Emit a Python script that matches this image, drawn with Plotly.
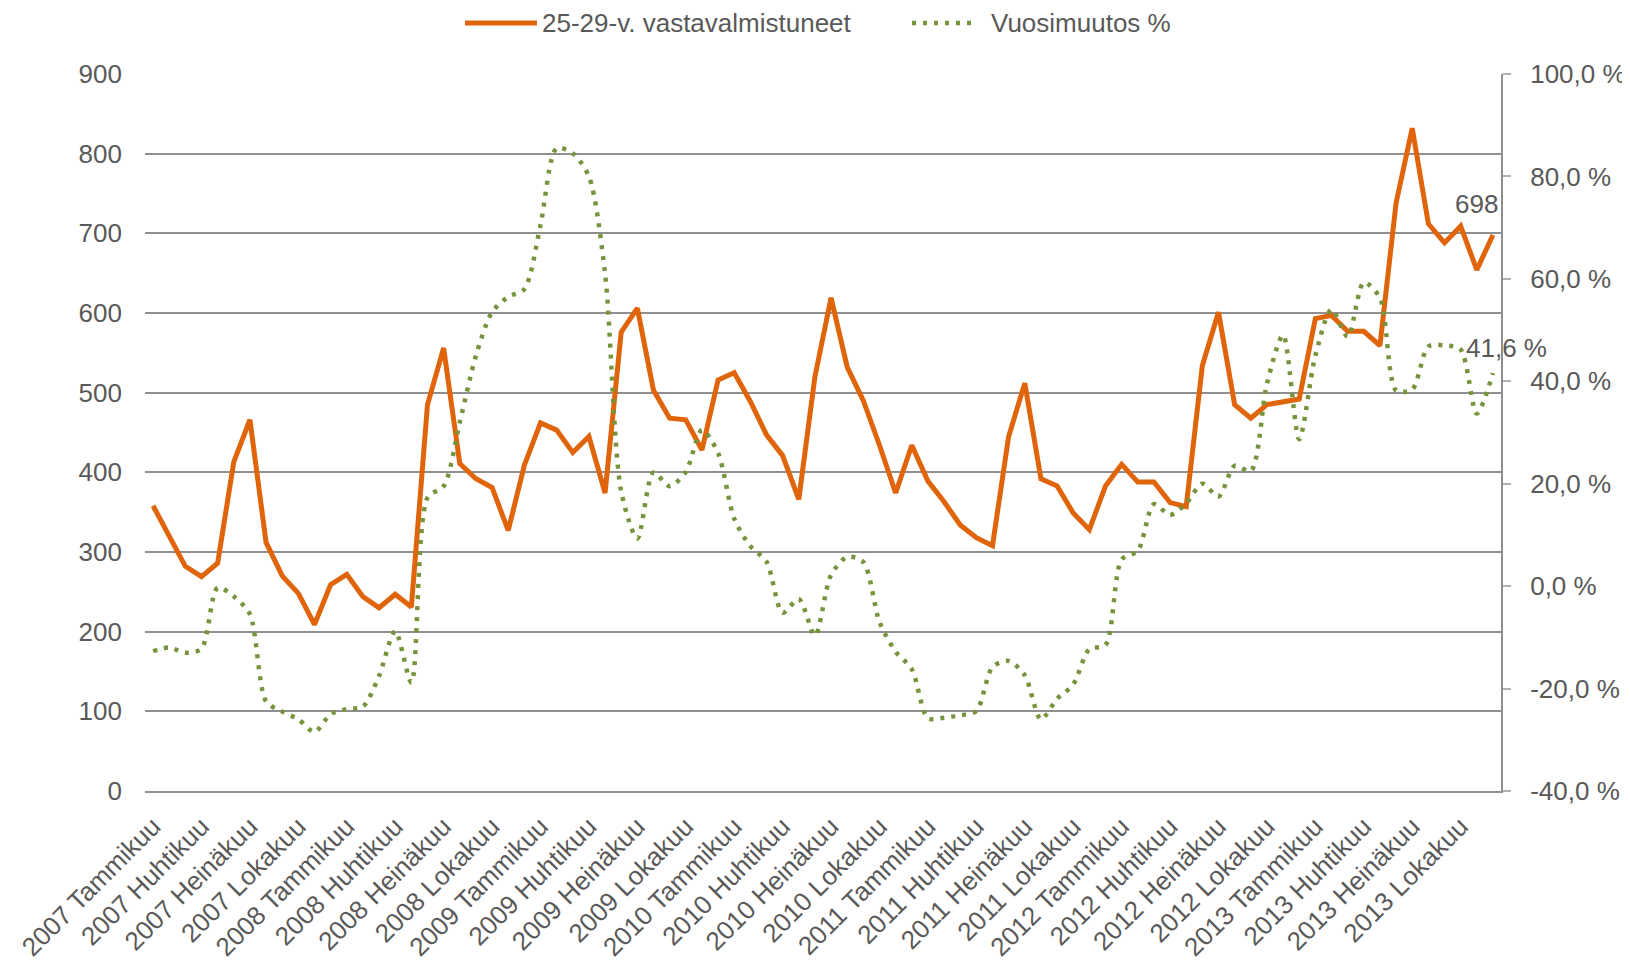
import plotly.graph_objects as go

years = [2007, 2008, 2009, 2010, 2011, 2012, 2013]
months = ["Tammikuu", "Helmikuu", "Maaliskuu", "Huhtikuu", "Toukokuu", "Kesäkuu",
          "Heinäkuu", "Elokuu", "Syyskuu", "Lokakuu", "Marraskuu", "Joulukuu"]
categories = [f"{y} {m}" for y in years for m in months]

graduates_name = "25-29-v. vastavalmistuneet"
graduates = [358, 320, 282, 269, 286, 413, 466, 312, 270, 248, 209, 259,
             272, 244, 230, 247, 231, 485, 556, 411, 392, 381, 327, 409,
             462, 453, 425, 445, 374, 576, 606, 503, 468, 466, 428, 516,
             525, 489, 447, 421, 366, 520, 619, 532, 490, 434, 374, 434,
             389, 363, 334, 318, 308, 445, 512, 392, 383, 349, 328, 383,
             410, 388, 388, 362, 357, 534, 601, 485, 468, 485, 489, 492,
             593, 597, 577, 577, 559, 738, 832, 712, 688, 709, 654, 698]

change_name = "Vuosimuutos %"
change_pct = [-12.7, -12.0, -13.0, -12.2, -0.3, -2.0, -5.5, -22.5, -24.5, -26.0, -28.5, -25.0,
              -24.0, -23.5, -17.5, -8.8, -18.8, 17.3, 19.5, 32.0, 45.0, 53.5, 56.5, 58.0,
              70.5, 85.5, 84.5, 80.0, 61.0, 18.5, 9.3, 22.2, 19.5, 22.3, 30.5, 26.0,
              13.2, 7.8, 4.8, -5.2, -2.5, -9.6, 2.2, 5.7, 4.7, -7.0, -12.8, -16.2,
              -25.8, -25.7, -25.2, -24.4, -15.8, -14.6, -17.4, -26.0, -22.0, -19.2, -12.3, -11.5,
              5.2, 6.9, 16.0, 13.9, 16.2, 20.0, 17.5, 23.5, 22.5, 39.5, 49.0, 28.7,
              45.0, 54.0, 48.7, 59.3, 56.3, 38.2, 38.4, 46.8, 47.0, 46.2, 33.7, 41.6]

left_ticks = [0, 100, 200, 300, 400, 500, 600, 700, 800, 900]
right_ticks = [-40, -20, 0, 20, 40, 60, 80, 100]


def pct_text(v):
    return f"{v:.1f}".replace(".", ",") + " %"


ORANGE = "#E0640A"
GREEN = "#77933C"
GRID = "#8F8F8F"
TEXT = "#595959"
FONT = "Liberation Sans, Arial, sans-serif"
FS = 26

# page is offset by the browser's default 8px body margin
OFF = 8
PAGE_W, PAGE_H = 1630, 961
W, H = PAGE_W - OFF, PAGE_H - OFF
# desired plot area in page pixels
PL, PR, PT, PB = 145, 1501, 74, 791
L, R, T, B = PL - OFF, PR - OFF, PT - OFF, PB - OFF

fig = go.Figure()
fig.add_trace(go.Scatter(
    x=categories, y=graduates, name=graduates_name, mode="lines",
    line=dict(color=ORANGE, width=5), yaxis="y", showlegend=False))
fig.add_trace(go.Scatter(
    x=categories, y=change_pct, name=change_name, mode="lines",
    line=dict(color=GREEN, width=4.5, dash="4px,7px", shape="spline", smoothing=0.8),
    yaxis="y2", showlegend=False))


def px2paper_x(px):
    return (px - PL) / (PR - PL)


def px2paper_y(py):
    return (PB - py) / (PB - PT)


# custom legend (page pixel positions)
ly = px2paper_y(23)
shapes = [
    dict(type="line", xref="paper", yref="paper", x0=px2paper_x(465), x1=px2paper_x(537),
         y0=ly, y1=ly, line=dict(color=ORANGE, width=5)),
    dict(type="line", xref="paper", yref="paper", x0=px2paper_x(912), x1=px2paper_x(974),
         y0=ly, y1=ly, line=dict(color=GREEN, width=4.5, dash="4px,7px")),
]
annotations = [
    dict(xref="paper", yref="paper", x=px2paper_x(540), y=ly, text=graduates_name,
         showarrow=False, xanchor="left", yanchor="middle",
         font=dict(family=FONT, size=FS, color=TEXT)),
    dict(xref="paper", yref="paper", x=px2paper_x(989), y=ly, text=change_name,
         showarrow=False, xanchor="left", yanchor="middle",
         font=dict(family=FONT, size=FS, color=TEXT)),
    # data labels
    dict(x=categories[-1], y=graduates[-1], xref="x", yref="y", text=f"{graduates[-1]}",
         showarrow=False, xanchor="right", yanchor="middle", xshift=7, yshift=31,
         font=dict(family=FONT, size=FS, color=TEXT)),
    dict(x=categories[-1], y=change_pct[-1], xref="x", yref="y2", text=pct_text(change_pct[-1]),
         showarrow=False, xanchor="center", yanchor="middle", xshift=14, yshift=25,
         font=dict(family=FONT, size=FS, color=TEXT)),
]

fig.update_layout(
    width=W, height=H,
    margin=dict(l=L, r=W - R, t=T, b=H - B, pad=0, autoexpand=False),
    paper_bgcolor="white", plot_bgcolor="white",
    font=dict(family=FONT, size=FS, color=TEXT),
    shapes=shapes, annotations=annotations,
    xaxis=dict(
        type="category", categoryorder="array", categoryarray=categories,
        range=[-0.5, len(categories) - 0.5], automargin=False,
        tickmode="array", tickvals=categories[::3], ticktext=categories[::3],
        tickangle=-45, showgrid=False, showline=True, linecolor=GRID, linewidth=2,
        ticks="", ticklabelstandoff=8, tickfont=dict(family=FONT, size=FS, color=TEXT),
    ),
    yaxis=dict(
        range=[0, 900], tickmode="array", tickvals=left_ticks, automargin=False,
        showgrid=True, gridcolor=GRID, gridwidth=2, zeroline=False,
        showline=False, ticks="", ticklabelstandoff=22,
        tickfont=dict(family=FONT, size=FS, color=TEXT),
    ),
    yaxis2=dict(
        overlaying="y", side="right", range=[-40, 100], automargin=False,
        tickmode="array", tickvals=right_ticks, ticktext=[pct_text(v) for v in right_ticks],
        showgrid=False, zeroline=False, showline=True, linecolor=GRID, linewidth=2,
        ticks="outside", ticklen=8, tickcolor="#B0B0B0", tickwidth=2, ticklabelstandoff=14,
        tickfont=dict(family=FONT, size=FS, color=TEXT),
    ),
)

fig.write_html("out.html")
